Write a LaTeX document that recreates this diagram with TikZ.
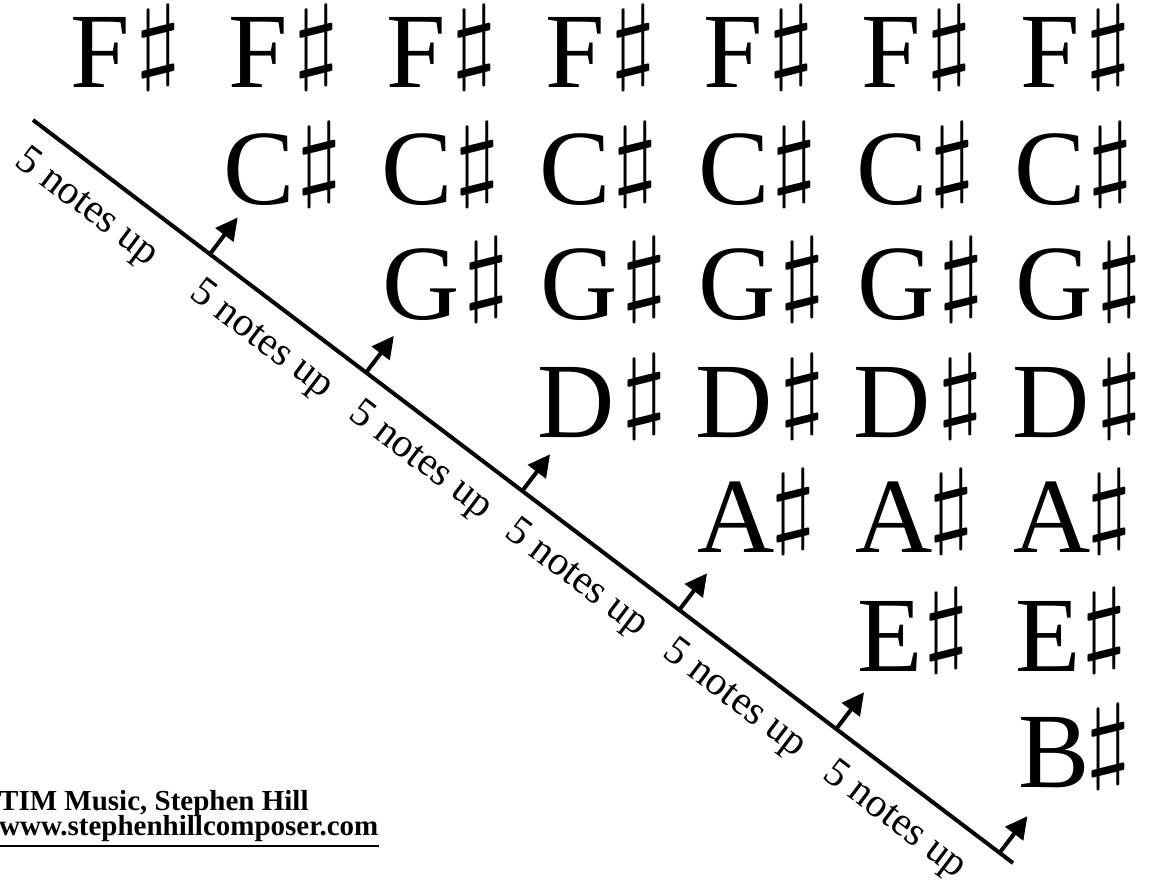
\documentclass[tikz,border=0pt]{standalone}
\usepackage{fontspec}
\setmainfont{Liberation Serif}
\usepackage{graphicx}
\usetikzlibrary{arrows.meta,calc}
\newcommand\mysharp{\raisebox{16.4pt}{\scalebox{11.8}[9.45]{$\sharp$}}}
\begin{document}
\begin{tikzpicture}[x=1pt,y=-1pt,
  note/.style={inner sep=0pt, anchor=base west, font=\fontsize{107}{107}\selectfont},
  sharpsign/.style={inner sep=0pt, anchor=base west},
  lbl/.style={inner sep=0pt, font=\fontsize{41}{41}\selectfont, rotate=-37.17},
  mainline/.style={line width=4pt},
  arr/.style={line width=4pt, -{Triangle[length=22pt,width=22pt]}},
  foot/.style={inner sep=0pt, anchor=base west, font=\fontsize{29}{29}\selectfont\bfseries}]
\useasboundingbox (0,0) rectangle (1160,885);
% note grid
\foreach \L/\c/\xo/\off/\y [count=\r] in {F/0/70/72/88, C/1/223/80/205, G/2/382/88/320, D/3/537/91/437, A/4/697/80/552, E/5/857/73/671, B/6/1018/74/787} {
  \foreach \k in {\c,...,6} {
    \pgfmathsetmacro\xx{\xo+158.3*(\k-\c)}
    \node[note] (n\r-\k) at (\xx,\y) {\L};
    \node[sharpsign] (s\r-\k) at (\xx+\off-7,\y) {\mysharp};
  }
}
% diagonal line
\coordinate (S) at (33,120);
\coordinate (E) at (1013,863);
\draw[mainline] (S) -- (E);
% arrows
\foreach \a [count=\i] in {222,418,614,811,1008,1213} {
  \coordinate (b\i) at ($(S)!\a/1229.8!(E)$);
  \coordinate (t\i) at ($(b\i)!46pt!90:(E)$);
  \draw[arr] (b\i) -- (t\i);
}
% labels
\foreach \a [count=\i] in {96,315,515,710,909,1110} {
  \coordinate (m\i) at ($(S)!\a/1229.8!(E)$);
  \node[lbl] (l\i) at ($(m\i)!38pt!-90:(E)$) {5 notes up};
}
% footer
\node[foot] (f1) at (-1,810) {TIM Music, Stephen Hill};
\node[foot] (f2) at (-1,835) {www.stephenhillcomposer.com};
\draw[line width=2pt] ($(f2.base west)+(0,11)$) -- ($(f2.base east)+(0,11)$);
\end{tikzpicture}
\end{document}
